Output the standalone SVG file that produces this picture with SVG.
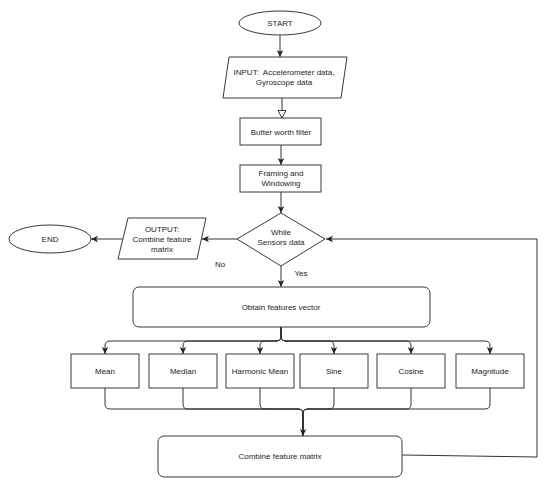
<svg xmlns="http://www.w3.org/2000/svg" width="550" height="487" viewBox="0 0 550 487">
<style>
.s{fill:#fff;stroke:#3a3a3a;stroke-width:1}
.t{font-family:"Liberation Sans",Arial,sans-serif;font-size:8px;fill:#1e1e1e;text-anchor:middle}
.e{fill:none;stroke:#333;stroke-width:1}
.a{marker-end:url(#arr)}
</style>
<defs>
<marker id="arr" markerUnits="userSpaceOnUse" markerWidth="8" markerHeight="8" refX="7" refY="4" orient="auto">
<path d="M0,0.8 L7,4 L0,7.2 L1.8,4 z" fill="#222"/>
</marker>
<marker id="open" markerUnits="userSpaceOnUse" markerWidth="10" markerHeight="10" refX="8" refY="4.5" orient="auto">
<path d="M0.5,0.5 L8,4.5 L0.5,8.5 z" fill="#fff" stroke="#333" stroke-width="1"/>
</marker>
</defs>
<rect width="550" height="487" fill="#fff"/>
<g id="connectors">
<path class="e a" d="M280,35 V57"/>
<path class="e" d="M282,98 V118" marker-end="url(#open)"/>
<path class="e a" d="M281,145 V165"/>
<path class="e a" d="M281,192 V213"/>
<path class="e a" d="M237,239 H202"/>
<path class="e a" d="M123,239 H91"/>
<path class="e a" d="M281,266 V287"/>
<path class="e a" d="M281,327 V336 Q281,341 276,341 H110 Q105,341 105,346 V354"/>
<path class="e a" d="M281,327 V336 Q281,341 276,341 H188 Q183,341 183,346 V354"/>
<path class="e a" d="M281,327 V336 Q281,341 276,341 H265 Q260,341 260,346 V354"/>
<path class="e a" d="M281,327 V336 Q281,341 286,341 H329 Q334,341 334,346 V354"/>
<path class="e a" d="M281,327 V336 Q281,341 286,341 H406 Q411,341 411,346 V354"/>
<path class="e a" d="M281,327 V336 Q281,341 286,341 H485 Q490,341 490,346 V354"/>
<path class="e" d="M105,388 V404 Q105,409 110,409 H298 Q303,409 303,414 V430"/>
<path class="e" d="M183,388 V404 Q183,409 188,409 H298 Q303,409 303,414 V430"/>
<path class="e" d="M260,388 V404 Q260,409 265,409 H298 Q303,409 303,414 V430"/>
<path class="e" d="M334,388 V404 Q334,409 329,409 H308 Q303,409 303,414 V430"/>
<path class="e" d="M411,388 V404 Q411,409 406,409 H308 Q303,409 303,414 V430"/>
<path class="e" d="M490,388 V404 Q490,409 485,409 H308 Q303,409 303,414 V430"/>
<path class="e a" d="M303,414 V436" style="stroke-width:1.8"/>
<path class="e a" d="M402,455 L537,457 V239 H326"/>
</g>
<g id="start"><ellipse class="s" cx="280" cy="23" rx="41" ry="12"/><text class="t" x="280" y="26">START</text></g>
<g id="input"><polygon class="s" points="229,57 347,57 341,98 223,98"/><text class="t" x="284" y="75">INPUT:&#160; Accelerometer data,</text><text class="t" x="284" y="85">Gyroscope data</text></g>
<g id="filter"><rect class="s" x="240" y="118" width="81" height="27"/><text class="t" x="281" y="134.5">Butter worth filter</text></g>
<g id="framing"><rect class="s" x="240" y="165" width="81" height="27"/><text class="t" x="281" y="176">Framing and</text><text class="t" x="281" y="186">Windowing</text></g>
<g id="while"><polygon class="s" points="281,213 325,239 281,266 237,239"/><text class="t" x="281" y="235">While</text><text class="t" x="281" y="245">Sensors data</text></g>
<g id="output"><polygon class="s" points="128,218 206,218 197,259 118,259"/><text class="t" x="162" y="232">OUTPUT:</text><text class="t" x="162" y="242">Combine feature</text><text class="t" x="162" y="252">matrix</text></g>
<g id="end"><ellipse class="s" cx="50" cy="239" rx="41" ry="14"/><text class="t" x="50" y="242">END</text></g>
<text class="t" x="220" y="267">No</text>
<text class="t" x="301" y="276">Yes</text>
<g id="obtain"><rect class="s" x="133" y="287" width="297" height="40" rx="6"/><text class="t" x="281" y="310">Obtain features vector</text></g>
<g id="mean"><rect class="s" x="71" y="354" width="68" height="34"/><text class="t" x="105" y="374">Mean</text></g>
<g id="median"><rect class="s" x="149" y="354" width="68" height="34"/><text class="t" x="183" y="374">Median</text></g>
<g id="hmean"><rect class="s" x="226" y="354" width="68" height="34"/><text class="t" x="260" y="374">Harmonic Mean</text></g>
<g id="sine"><rect class="s" x="300" y="354" width="68" height="34"/><text class="t" x="334" y="374">Sine</text></g>
<g id="cosine"><rect class="s" x="377" y="354" width="68" height="34"/><text class="t" x="411" y="374">Cosine</text></g>
<g id="magnitude"><rect class="s" x="456" y="354" width="68" height="34"/><text class="t" x="490" y="374">Magnitude</text></g>
<g id="combine"><rect class="s" x="158" y="436" width="244" height="41" rx="6"/><text class="t" x="280" y="459">Combine feature matrix</text></g>
</svg>
